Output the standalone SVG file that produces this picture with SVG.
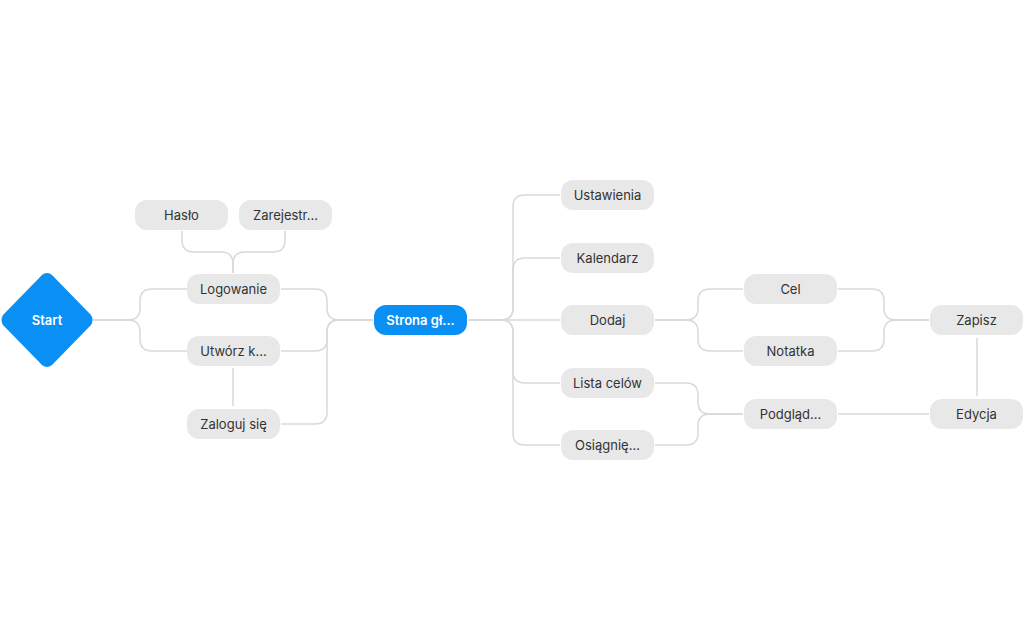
<svg xmlns="http://www.w3.org/2000/svg" width="1024" height="640" viewBox="0 0 1024 640">
<style>
.n rect{fill:#e8e8e8}
.n text{font-family:Inter,"Noto Sans",sans-serif;font-size:13px;fill:#333;text-anchor:middle;dominant-baseline:central}
.b text{fill:#fff;font-weight:600}
.c path{fill:none;stroke:#d9d9d9;stroke-width:1.5}
</style>
<rect width="1024" height="640" fill="#fff"/>
<g id="connectors" class="c">
<path d="M93,320 H128 Q140,320 140,308 V301 Q140,289 152,289 H187"/>
<path d="M93,320 H128 Q140,320 140,332 V339 Q140,351 152,351 H187"/>
<path d="M182,231 V240 Q182,252 194,252 H221 Q233,252 233,264 V273"/>
<path d="M285,231 V240 Q285,252 273,252 H245 Q233,252 233,264 V273"/>
<path d="M233,368 V406"/>
<path d="M281,289 H315 Q327,289 327,301 V308 Q327,320 339,320 H373"/>
<path d="M281,351 H315 Q327,351 327,339 V332 Q327,320 339,320 H373"/>
<path d="M281,424 H315 Q327,424 327,412 V332 Q327,320 339,320 H373"/>
<path d="M468,320 H501 Q513,320 513,308 V207 Q513,195 525,195 H560"/>
<path d="M468,320 H501 Q513,320 513,308 V270 Q513,258 525,258 H560"/>
<path d="M468,320 H560"/>
<path d="M468,320 H501 Q513,320 513,332 V371 Q513,383 525,383 H560"/>
<path d="M468,320 H501 Q513,320 513,332 V433 Q513,445 525,445 H560"/>
<path d="M655,320 H686 Q698,320 698,308 V301 Q698,289 710,289 H743"/>
<path d="M655,320 H686 Q698,320 698,332 V339 Q698,351 710,351 H743"/>
<path d="M655,383 H686 Q698,383 698,395 V402 Q698,414 710,414 H743"/>
<path d="M655,445 H686 Q698,445 698,433 V426 Q698,414 710,414 H743"/>
<path d="M838,289 H872 Q884,289 884,301 V308 Q884,320 896,320 H929"/>
<path d="M838,351 H872 Q884,351 884,339 V332 Q884,320 896,320 H929"/>
<path d="M838,414 H929"/>
<path d="M977,338 V396"/>
</g>
<g id="start" class="n b"><path d="M47,273 Q50,273 52,275 L91,315 Q94,320 91,325 L52,365 Q47,369 42,365 L3,325 Q0,320 3,315 L42,275 Q44,273 47,273 Z" fill="#0a8ff5"/><text x="47" y="320">Start</text></g>
<g id="haslo" class="n"><rect x="135" y="200" width="93" height="30" rx="12"/><text x="181.5" y="215">Hasło</text></g>
<g id="zarejestr" class="n"><rect x="239" y="200" width="93" height="30" rx="12"/><text x="285.5" y="215">Zarejestr...</text></g>
<g id="logowanie" class="n"><rect x="187" y="274" width="93" height="30" rx="12"/><text x="233.5" y="289">Logowanie</text></g>
<g id="utworz" class="n"><rect x="187" y="336" width="93" height="30" rx="12"/><text x="233.5" y="351">Utwórz k...</text></g>
<g id="zaloguj" class="n"><rect x="187" y="409" width="93" height="30" rx="12"/><text x="233.5" y="424">Zaloguj się</text></g>
<g id="strona" class="n b"><rect x="374" y="305" width="93" height="30" rx="12" style="fill:#0a8ff5"/><text x="420.5" y="320">Strona gł...</text></g>
<g id="ustawienia" class="n"><rect x="561" y="180" width="93" height="30" rx="12"/><text x="607.5" y="195">Ustawienia</text></g>
<g id="kalendarz" class="n"><rect x="561" y="243" width="93" height="30" rx="12"/><text x="607.5" y="258">Kalendarz</text></g>
<g id="dodaj" class="n"><rect x="561" y="305" width="93" height="30" rx="12"/><text x="607.5" y="320">Dodaj</text></g>
<g id="lista" class="n"><rect x="561" y="368" width="93" height="30" rx="12"/><text x="607.5" y="383">Lista celów</text></g>
<g id="osiagniecia" class="n"><rect x="561" y="430" width="93" height="30" rx="12"/><text x="607.5" y="445">Osiągnię...</text></g>
<g id="cel" class="n"><rect x="744" y="274" width="93" height="30" rx="12"/><text x="790.5" y="289">Cel</text></g>
<g id="notatka" class="n"><rect x="744" y="336" width="93" height="30" rx="12"/><text x="790.5" y="351">Notatka</text></g>
<g id="podglad" class="n"><rect x="744" y="399" width="93" height="30" rx="12"/><text x="790.5" y="414">Podgląd...</text></g>
<g id="zapisz" class="n"><rect x="930" y="305" width="93" height="30" rx="12"/><text x="976.5" y="320">Zapisz</text></g>
<g id="edycja" class="n"><rect x="930" y="399" width="93" height="30" rx="12"/><text x="976.5" y="414">Edycja</text></g>
</svg>
